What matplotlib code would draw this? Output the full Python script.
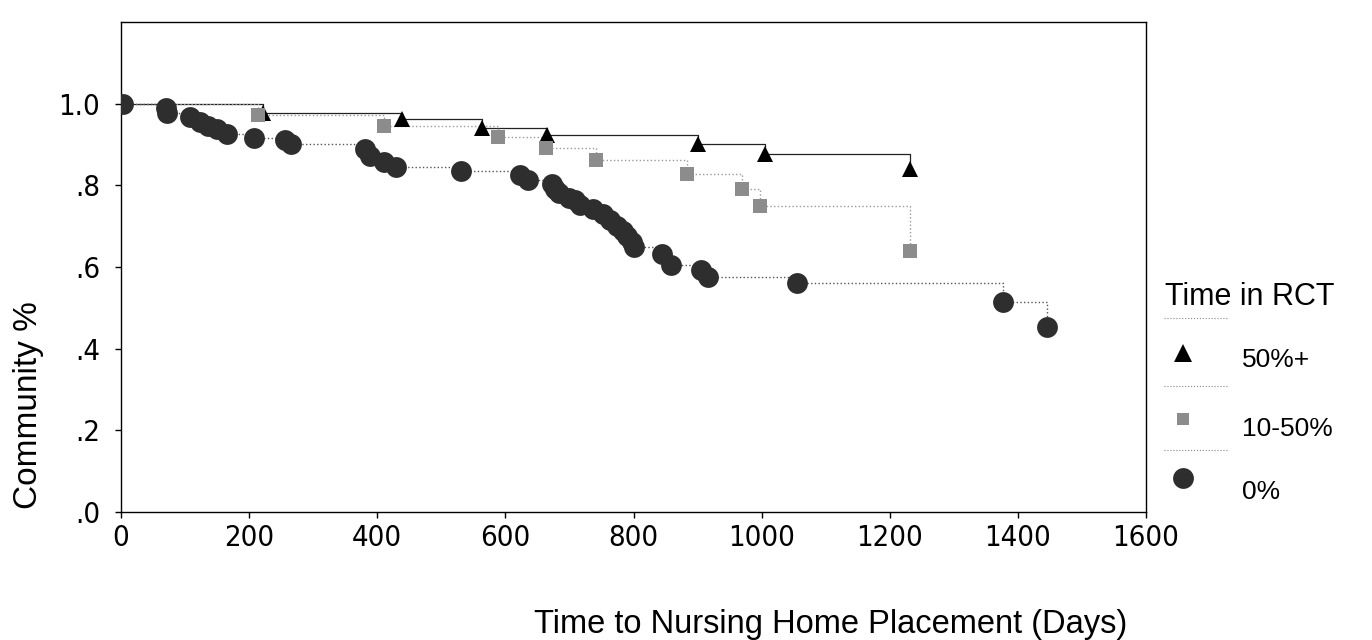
import matplotlib
matplotlib.use("Agg")
import matplotlib.pyplot as plt

# Kaplan-Meier style steps: (day, proportion still in community)
high_days = [222, 438, 564, 665, 900, 1005, 1231]
high_surv = [0.978, 0.963, 0.941, 0.924, 0.900, 0.876, 0.841]

mid_days = [214, 410, 589, 664, 741, 884, 970, 998, 1231]
mid_surv = [0.973, 0.946, 0.918, 0.892, 0.863, 0.827, 0.790, 0.749, 0.638]

low_days = [3, 70, 72, 108, 123, 136, 150, 165, 208, 256, 265, 381, 389, 410, 430,
            530, 623, 636, 672, 678, 683, 700, 709, 717, 736, 753, 764, 775, 783,
            790, 797, 800, 845, 859, 905, 917, 1055, 1377, 1445]
low_surv = [1.0, 0.990, 0.977, 0.968, 0.956, 0.946, 0.937, 0.926, 0.917, 0.910,
            0.900, 0.890, 0.871, 0.856, 0.846, 0.834, 0.826, 0.812, 0.803, 0.790,
            0.780, 0.770, 0.765, 0.752, 0.742, 0.730, 0.716, 0.701, 0.688, 0.676,
            0.660, 0.648, 0.633, 0.605, 0.592, 0.576, 0.561, 0.515, 0.452]

group_labels = ["50%+", "10-50%", "0%"]
x_ticks = [0, 200, 400, 600, 800, 1000, 1200, 1400, 1600]
y_ticks = [0.0, 0.2, 0.4, 0.6, 0.8, 1.0]
y_tick_labels = [".0", ".2", ".4", ".6", ".8", "1.0"]

styles = [
    dict(marker="^", ms=12, color="black", ls="-", lw=0.9, line="#222222"),
    dict(marker="s", ms=10, color="#8c8c8c", ls=":", lw=1.0, line="#9a9a9a"),
    dict(marker="o", ms=15, color="#2e2e2e", ls=":", lw=1.0, line="#555555"),
]
series = [(high_days, high_surv), (mid_days, mid_surv), (low_days, low_surv)]

sans = ["Liberation Sans", "DejaVu Sans"]

fig = plt.figure(figsize=(13.72, 6.4), dpi=100)
ax = fig.add_axes([121 / 1372, 1 - 512 / 640, (1146 - 121) / 1372, (512 - 22) / 640])

for (d, s), st in zip(series, styles):
    ax.step([0] + d, [1.0] + s, where="post", color=st["line"], ls=st["ls"], lw=st["lw"], zorder=2)
    ax.plot(d, s, ls="none", marker=st["marker"], ms=st["ms"], color=st["color"],
            mec=st["color"], mew=0, zorder=3)

ax.set_xlim(0, 1600)
ax.set_ylim(0, 1.2)
ax.set_xticks(x_ticks)
ax.set_xticklabels([str(t) for t in x_ticks], family="DejaVu Sans", stretch="condensed",
                   fontsize=21)
ax.set_yticks(y_ticks)
ax.set_yticklabels(y_tick_labels, family="DejaVu Sans", stretch="condensed", fontsize=21)
ax.tick_params(axis="x", direction="out", length=4, width=1, pad=5)
ax.tick_params(axis="y", direction="out", length=4, width=1, pad=11)
for sp in ax.spines.values():
    sp.set_linewidth(1.0)

fig.text(831 / 1372, 1 - 625 / 640, "Time to Nursing Home Placement (Days)",
         ha="center", va="center", fontsize=23.5, family=sans)
fig.text(29 / 1372, 1 - 405 / 640, "Community %", rotation=90,
         ha="center", va="center", fontsize=24, family=sans)

# legend drawn in its own pixel-based axes
lax = fig.add_axes([1150 / 1372, 1 - 510 / 640, 222 / 1372, 240 / 640])
lax.set_xlim(1150, 1372)
lax.set_ylim(510, 270)
lax.axis("off")
lax.text(1165, 305, "Time in RCT", fontsize=22, family=sans, va="baseline")
sep_y = [318, 386, 450]
key_y = [353, 419, 478]
text_y = [367, 436, 499]
key_ms = [13, 8.5, 15]
for st, lab, sy, ky, ty, km in zip(styles, group_labels, sep_y, key_y, text_y, key_ms):
    lax.plot([1164, 1227], [sy, sy], color="#888888", ls=":", lw=0.8)
    lax.plot([1183], [ky], marker=st["marker"], ms=km, color=st["color"], mew=0, ls="none")
    lax.text(1242, ty, lab, fontsize=19, family=sans, va="baseline")

fig.savefig("out.png", dpi=100)
